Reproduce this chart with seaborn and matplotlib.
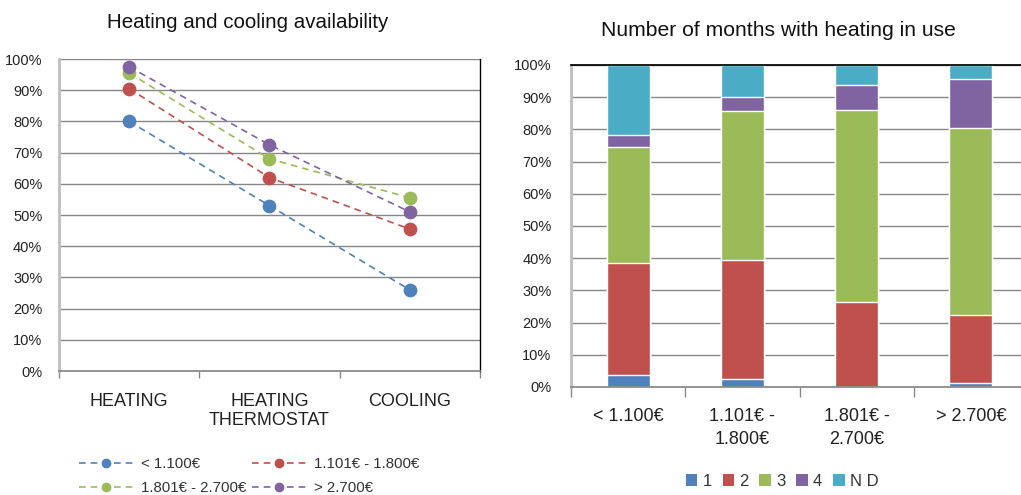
import matplotlib
matplotlib.use("Agg")
import matplotlib.pyplot as plt
import seaborn as sns
import pandas as pd
import numpy as np
from matplotlib.ticker import PercentFormatter
from matplotlib.lines import Line2D
from matplotlib.patches import Patch

# --- data ---
avail_cats = ["HEATING", "HEATING\nTHERMOSTAT", "COOLING"]
income_groups = ["< 1.100€", "1.101€ - 1.800€", "1.801€ - 2.700€", "> 2.700€"]
avail_low = [80.0, 53.0, 26.0]
avail_mid = [90.5, 62.0, 45.5]
avail_high = [95.5, 68.0, 55.5]
avail_top = [97.5, 72.5, 51.0]

bar_cats = ["< 1.100€", "1.101€ -\n1.800€", "1.801€ -\n2.700€", "> 2.700€"]
month_labels = ["1", "2", "3", "4", "N D"]
months_1 = [3.6, 2.5, 0.0, 1.1]
months_2 = [35.0, 37.0, 26.5, 21.2]
months_3 = [36.0, 46.3, 59.6, 58.2]
months_4 = [3.8, 4.4, 7.8, 15.3]
months_nd = [21.6, 9.8, 6.1, 4.2]

colors = ["#4F81BD", "#C0504D", "#9BBB59", "#8064A2", "#4BACC6"]

sns.set_theme(style="white")
plt.rcParams["font.family"] = ["Liberation Sans", "DejaVu Sans"]

fig = plt.figure(figsize=(10.21, 4.95), dpi=100)
ax1 = fig.add_axes([0.0578, 0.2505, 0.4123, 0.6303])
ax2 = fig.add_axes([0.5593, 0.2182, 0.4476, 0.6505])

# --- left: line chart ---
df_line = pd.DataFrame({
    "cat": avail_cats * 4,
    "group": sum([[g] * 3 for g in income_groups], []),
    "val": avail_low + avail_mid + avail_high + avail_top,
})
sns.pointplot(data=df_line, x="cat", y="val", hue="group", hue_order=income_groups,
              palette=colors[:4], markers="o", linestyles="--", ax=ax1,
              markersize=9, linewidth=1.2, legend=False)
for ln in ax1.lines:
    ln.set_dashes([4, 3])

ax1.set_xlim(-0.5, 2.5)
ax1.set_ylim(0, 100)
ax1.set_yticks(np.arange(0, 101, 10))
ax1.yaxis.set_major_formatter(PercentFormatter(decimals=0))
ax1.set_xlabel("")
ax1.set_ylabel("")
ax1.grid(axis="y", color="#878787", linewidth=1)
ax1.set_axisbelow(True)
ax1.set_xticks([0, 1, 2])
ax1.set_xticklabels(avail_cats, fontsize=13, color="#222222", va="top", linespacing=1.1)
ax1.set_xticks([-0.5, 0.5, 1.5, 2.5], minor=True)
ax1.tick_params(axis="x", which="major", length=0, pad=16)
ax1.tick_params(axis="x", which="minor", length=5, width=1, color="#888888", direction="out", bottom=True)
ax1.tick_params(axis="y", labelsize=10.5, length=0, pad=12, labelcolor="#222222")
ax1.spines["top"].set_visible(False)
ax1.spines["left"].set_color("#BFBFBF")
ax1.spines["left"].set_linewidth(2)
ax1.spines["bottom"].set_color("#888888")
ax1.spines["right"].set_color("black")
ax1.spines["right"].set_linewidth(1)

handles = [Line2D([0], [0], color=c, linestyle=(0, (4, 3)), linewidth=1.2, marker="o",
                  markersize=6) for c in colors[:4]]
# matplotlib fills legend columns first; reorder so rows read like the reference
order = [0, 2, 1, 3]
fig.legend([handles[i] for i in order], [income_groups[i] for i in order], ncol=2,
           loc="center", bbox_to_anchor=(249 / 1021, 1 - 476 / 495),
           frameon=False, fontsize=10.8, handlelength=3.6, numpoints=1, columnspacing=0.35,
           labelspacing=0.7, handletextpad=0.55, labelcolor="#333333")

fig.text(248 / 1021, 1 - 22 / 495, "Heating and cooling availability", ha="center", va="center",
         fontsize=14.8, color="#111111")

# --- right: stacked bars ---
layers = [months_1, months_2, months_3, months_4, months_nd]
tops = np.cumsum(np.array(layers), axis=0)
df_bar = pd.DataFrame({"cat": bar_cats})
for i in range(len(layers) - 1, -1, -1):
    df_bar["top"] = tops[i]
    sns.barplot(data=df_bar, x="cat", y="top", color=colors[i], width=0.376,
                saturation=1, ax=ax2)

ax2.set_xlim(-0.5, 3.5)
ax2.set_ylim(0, 100)
ax2.set_yticks(np.arange(0, 101, 10))
ax2.yaxis.set_major_formatter(PercentFormatter(decimals=0))
ax2.set_xlabel("")
ax2.set_ylabel("")
ax2.grid(axis="y", color="#878787", linewidth=1)
ax2.set_axisbelow(True)
ax2.set_xticks(range(4))
ax2.set_xticklabels(bar_cats, fontsize=13, color="#222222", va="top", linespacing=1.45)
ax2.set_xticks([-0.5, 0.5, 1.5, 2.5, 3.5], minor=True)
ax2.tick_params(axis="x", which="major", length=0, pad=15)
ax2.tick_params(axis="x", which="minor", length=7, width=1, color="#888888", direction="out", bottom=True)
ax2.tick_params(axis="y", labelsize=10.5, length=0, pad=14, labelcolor="#222222")
ax2.spines["left"].set_color("#BFBFBF")
ax2.spines["left"].set_linewidth(2)
ax2.spines["bottom"].set_color("#888888")
ax2.spines["top"].set_color("black")
ax2.spines["right"].set_visible(False)

patches = [Patch(facecolor=c, edgecolor="none") for c in colors]
fig.legend(patches, month_labels, ncol=5, loc="center", bbox_to_anchor=(782 / 1021, 1 - 481 / 495),
           frameon=False, fontsize=12, handlelength=0.7, handleheight=0.7,
           handletextpad=0.3, columnspacing=0.65, labelcolor="#333333")

fig.text(778 / 1021, 1 - 30 / 495, "Number of months with heating in use", ha="center", va="center",
         fontsize=15.2, color="#111111")

fig.savefig("out.png", dpi=100)
